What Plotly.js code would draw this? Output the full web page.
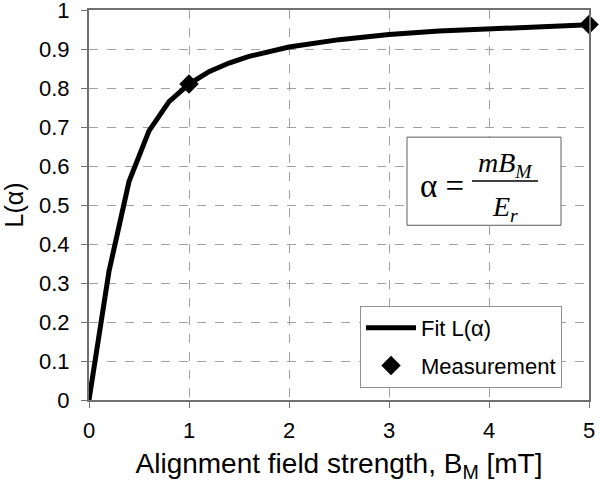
<!DOCTYPE html>
<html>
<head>
<meta charset="utf-8">
<script src="https://cdn.plot.ly/plotly-3.0.1.min.js"></script>
<style>
  body { margin: 0; background: #fff; }
  #chart { width: 600px; height: 488px; }
</style>
</head>
<body>
<div id="chart"></div>
<script>
// Fit curve L(alpha)
let fitB = [0, 0.2, 0.4, 0.6, 0.8, 1.0, 1.2, 1.4, 1.6, 1.8, 2.0, 2.5, 3.0, 3.5, 4.0, 4.5, 5.0];
let fitL = [0, 0.33, 0.56, 0.69, 0.765, 0.81, 0.842, 0.864, 0.881, 0.894, 0.905, 0.924, 0.937, 0.946, 0.952, 0.958, 0.962];

// Measured points
let measB = [1, 5];
let measL = [0.81, 0.963];

let xTicks = [0, 1, 2, 3, 4, 5];
let yTicks = [0, 0.1, 0.2, 0.3, 0.4, 0.5, 0.6, 0.7, 0.8, 0.9, 1];

let sans = 'Liberation Sans, Arial, sans-serif';
let serif = 'Liberation Serif, Times New Roman, serif';

let fit = {
  x: fitB,
  y: fitL,
  mode: 'lines',
  type: 'scatter',
  name: 'Fit L(α)',
  legendgroup: 'a',
  line: { color: '#000', width: 5 },
};

let meas = {
  x: measB,
  y: measL,
  mode: 'markers',
  type: 'scatter',
  name: 'Measurement',
  legendgroup: 'b',
  marker: { symbol: 'diamond', size: 15, color: '#000' },
  cliponaxis: false,
};

let axisCommon = {
  showline: true,
  linecolor: '#707070',
  linewidth: 2,
  mirror: true,
  showgrid: true,
  gridcolor: '#a0a0a0',
  griddash: 'dash',
  gridwidth: 1,
  zeroline: false,
  ticks: 'outside',
  ticklen: 6,
  tickcolor: '#707070',
  ticklabeloverflow: 'allow',
  tickfont: { family: sans, size: 22, color: '#000' },
};

let layout = {
  width: 600,
  height: 488,
  margin: { l: 89, r: 11, t: 10, b: 88 },
  paper_bgcolor: '#fff',
  plot_bgcolor: '#fff',
  font: { family: sans, color: '#000' },
  xaxis: Object.assign({}, axisCommon, {
    range: [0, 5],
    tickvals: xTicks,
    ticklabelstandoff: 4,
    title: { text: 'Alignment field strength, B<sub>M</sub> [mT]', font: { family: sans, size: 28 }, standoff: 11 },
  }),
  yaxis: Object.assign({}, axisCommon, {
    range: [0, 1],
    tickvals: yTicks,
    ticklabelstandoff: 7,
    title: { text: 'L(α)', font: { family: sans, size: 25 }, standoff: 14 },
  }),
  showlegend: true,
  legend: {
    x: 0.542, y: 0.241, xanchor: 'left', yanchor: 'top',
    bgcolor: '#fff',
    bordercolor: '#909090',
    borderwidth: 1,
    itemwidth: 50,
    font: { family: sans, size: 22, color: '#000' },
    tracegroupgap: 6,
  },
  shapes: [
    { type: 'rect', xref: 'x', yref: 'y', x0: 3.18, x1: 4.72, y0: 0.448, y1: 0.674,
      line: { color: '#606060', width: 1 }, fillcolor: '#fff', layer: 'above' },
    { type: 'line', xref: 'x', yref: 'y', x0: 3.83, x1: 4.49, y0: 0.5615, y1: 0.5615,
      line: { color: '#000', width: 1.5 }, layer: 'above' },
  ],
  annotations: [
    { x: 3.53, y: 0.548, xref: 'x', yref: 'y', text: 'α =', showarrow: false,
      font: { family: serif, size: 33, color: '#000' } },
    { x: 4.16, y: 0.603, xref: 'x', yref: 'y', text: '<i>mB</i><sub><i>M</i></sub>', showarrow: false,
      font: { family: serif, size: 28, color: '#000' } },
    { x: 4.16, y: 0.49, xref: 'x', yref: 'y', text: '<i>E</i><sub><i>r</i></sub>', showarrow: false,
      font: { family: serif, size: 28, color: '#000' } },
  ],
};

Plotly.newPlot('chart', [fit, meas], layout, { staticPlot: true, displayModeBar: false });
</script>
</body>
</html>
